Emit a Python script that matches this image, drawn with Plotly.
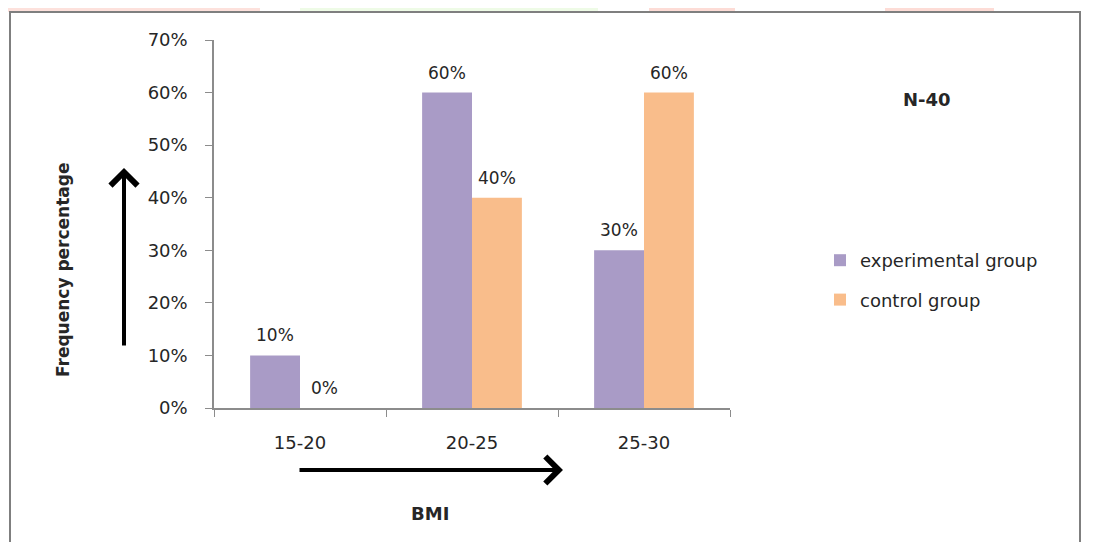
import plotly.graph_objects as go

categories = ["15-20", "20-25", "25-30"]
experimental = [0.10, 0.60, 0.30]
control = [0.00, 0.40, 0.60]
series_names = ["experimental group", "control group"]
y_ticks = [0, 0.1, 0.2, 0.3, 0.4, 0.5, 0.6, 0.7]

PURPLE = "#a99bc6"
ORANGE = "#f9bd8b"
TXT = "#262626"
FONT = "DejaVu Sans"

# the page adds an 8px body margin; all screen coordinates below are shifted by it
OFF = 8
W, H = 1095 - OFF, 542 - OFF
L, R, T, B = 214 - OFF, 365, 40 - OFF, 134
pw = W - L - R
ph = H - T - B
BARGAP = 0.42


def px(x):
    return (x - OFF - L) / pw


def py(y):
    return (H - B - (y - OFF)) / ph


fig = go.Figure()
for name, vals, col, grp in [(series_names[0], experimental, PURPLE, "a"),
                             (series_names[1], control, ORANGE, "b")]:
    fig.add_trace(go.Bar(
        x=categories, y=vals, name=name,
        marker=dict(color=col, line=dict(width=0)),
        legendgroup=grp,
    ))

# data labels placed above each bar
cat_w = pw / len(categories)
bar_w = cat_w * (1 - BARGAP) / 2
annotations = []
for vals, sign in [(experimental, -1), (control, 1)]:
    for c, v in zip(categories, vals):
        annotations.append(dict(
            x=c, y=v, xref="x", yref="y", text=f"{v:.0%}", showarrow=False,
            xshift=sign * bar_w / 2, yshift=20, xanchor="center", yanchor="middle",
            font=dict(family=FONT, size=17, color=TXT),
        ))

shapes = []
for x0, x1, col in [(0, 260, "#fde1dc"), (300, 598, "#eefbe6"), (649, 735, "#fddcd6"), (885, 994, "#fddcd6")]:
    shapes.append(dict(type="rect", xref="paper", yref="paper", x0=px(x0), x1=px(x1), y0=py(12), y1=py(8),
                       fillcolor=col, line=dict(width=0), layer="below"))
shapes.append(dict(type="rect", xref="paper", yref="paper", x0=px(10), x1=px(1080), y0=py(570), y1=py(12),
                   line=dict(color="#7f7f7f", width=2), fillcolor="rgba(0,0,0,0)", layer="below"))

annotations += [
    dict(text="<b>Frequency percentage</b>", xref="paper", yref="paper", x=px(63), y=py(270),
         xanchor="center", yanchor="middle",
         textangle=-90, showarrow=False, font=dict(family=FONT, size=17, color=TXT)),
    dict(text="<b>BMI</b>", xref="paper", yref="paper", x=px(430), y=py(513),
         xanchor="center", yanchor="middle",
         showarrow=False, font=dict(family=FONT, size=18, color=TXT)),
    dict(text="<b>N-40</b>", xref="paper", yref="paper", x=px(927), y=py(99),
         xanchor="center", yanchor="middle",
         showarrow=False, font=dict(family=FONT, size=18, color=TXT)),
    dict(text="", xref="paper", yref="paper", x=px(124), y=py(168), ax=0, ay=179,
         showarrow=True, arrowhead=4, arrowsize=1.3, arrowwidth=4, arrowcolor="#000000"),
    dict(text="", xref="paper", yref="paper", x=px(563), y=py(470), ax=-265, ay=0,
         showarrow=True, arrowhead=4, arrowsize=1.3, arrowwidth=4, arrowcolor="#000000"),
]

fig.update_layout(
    width=W, height=H,
    margin=dict(l=L, r=R, t=T, b=B, autoexpand=False),
    paper_bgcolor="white", plot_bgcolor="white",
    barmode="group", bargap=BARGAP, bargroupgap=0,
    font=dict(family=FONT, color=TXT),
    showlegend=True,
    legend=dict(x=px(820), y=py(242), xanchor="left", yanchor="top",
                font=dict(family=FONT, size=18, color=TXT),
                traceorder="grouped", tracegroupgap=13, bgcolor="rgba(0,0,0,0)"),
    shapes=shapes, annotations=annotations,
    xaxis=dict(type="category", showline=True, linecolor="#8c8c8c", linewidth=1.5,
               ticks="outside", tickson="boundaries", ticklen=7, tickcolor="#8c8c8c",
               tickfont=dict(family=FONT, size=18, color=TXT), ticklabelstandoff=18,
               showgrid=False, zeroline=False),
    yaxis=dict(range=[0, 0.7], tickvals=y_ticks, tickformat=".0%", showline=True,
               linecolor="#8c8c8c", linewidth=1.5, ticks="outside", ticklen=7, tickcolor="#8c8c8c",
               tickfont=dict(family=FONT, size=18, color=TXT), ticklabelstandoff=14,
               showgrid=False, zeroline=False),
)

fig.write_html("out.html")
